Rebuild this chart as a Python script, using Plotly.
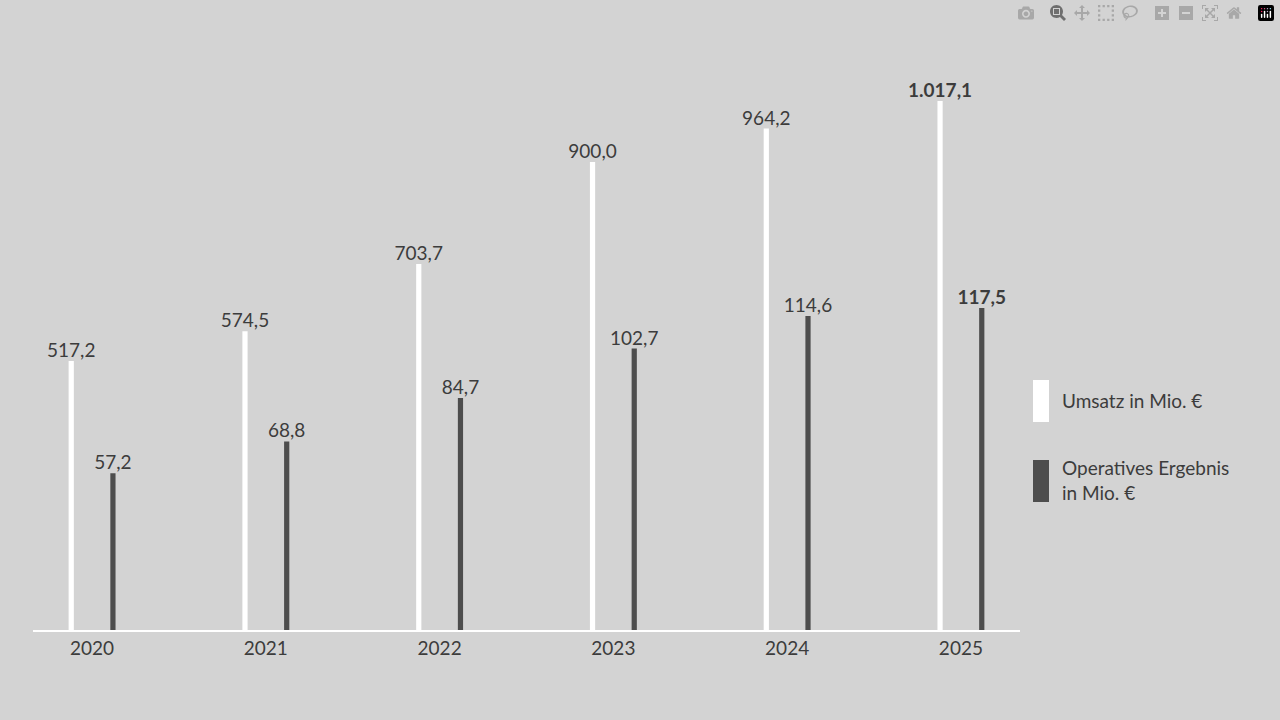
import plotly.graph_objects as go

years = ["2020", "2021", "2022", "2023", "2024", "2025"]
umsatz = [517.2, 574.5, 703.7, 900.0, 964.2, 1017.1]
ergebnis = [57.2, 68.8, 84.7, 102.7, 114.6, 117.5]

def de(v):
    s = f"{v:,.1f}"
    return s.replace(",", "X").replace(".", ",").replace("X", ".")

def labels(vals):
    out = [de(v) for v in vals]
    out[-1] = "<b>" + out[-1] + "</b>"
    return out

x = list(range(len(years)))
font = dict(family="Lato", size=19, color="#3c3c3c")

fig = go.Figure()
fig.add_bar(x=x, y=umsatz, width=0.03, offset=-0.135, marker=dict(color="white", line_width=0),
            text=labels(umsatz), textposition="outside", textfont=font, cliponaxis=False,
            constraintext="none", name="Umsatz in Mio. €", yaxis="y")
fig.add_bar(x=x, y=ergebnis, width=0.03, offset=0.105, marker=dict(color="#4d4d4d", line_width=0),
            text=labels(ergebnis), textposition="outside", textfont=font, cliponaxis=False,
            constraintext="none", name="Operatives Ergebnis in Mio. €", yaxis="y2")

fig.update_layout(
    width=1280, height=720, paper_bgcolor="#d3d3d3", plot_bgcolor="#d3d3d3",
    margin=dict(l=33, r=260, t=60, b=90), showlegend=False, barmode="overlay",
    font=font,
    xaxis=dict(range=[-0.34, 5.34], tickvals=x, ticktext=years, showgrid=False, zeroline=False,
               showline=True, linecolor="white", linewidth=2, ticks="", tickfont=font),
    yaxis=dict(range=[0, 1096], visible=False, showgrid=False),
    yaxis2=dict(range=[0, 208], visible=False, showgrid=False, overlaying="y"),
)
# legend
fig.add_shape(type="rect", xref="paper", yref="paper", x0=1000/987, x1=1016/987,
              y0=(630-422)/570, y1=(630-380)/570, fillcolor="white", line_width=0)
fig.add_shape(type="rect", xref="paper", yref="paper", x0=1000/987, x1=1016/987,
              y0=(630-502)/570, y1=(630-460)/570, fillcolor="#4d4d4d", line_width=0)
fig.add_annotation(xref="paper", yref="paper", x=1027/987, y=(630-400)/570, xanchor="left",
                   yanchor="middle", text="Umsatz in Mio. €", showarrow=False, font=font, align="left")
fig.add_annotation(xref="paper", yref="paper", x=1027/987, y=(630-480)/570, xanchor="left",
                   yanchor="middle", text="Operatives Ergebnis<br>in Mio. €", showarrow=False,
                   font=font, align="left")
fig.write_html("out.html", post_script="document.body.style.margin='0';document.body.style.background='#d3d3d3';")
